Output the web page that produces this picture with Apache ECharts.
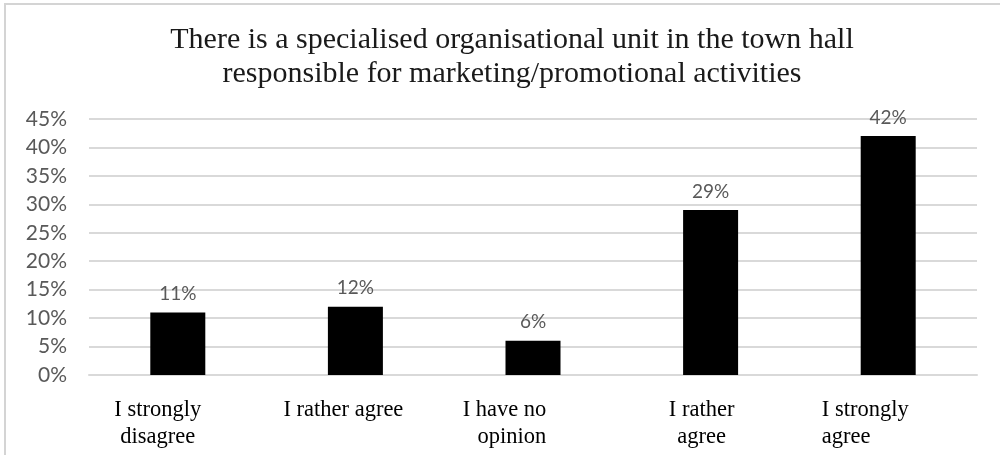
<!DOCTYPE html>
<html>
<head>
<meta charset="utf-8">
<script src="https://cdn.jsdelivr.net/npm/echarts@6/dist/echarts.min.js"></script>
<style>
  html, body { margin: 0; padding: 0; background: #fff; }
  #chart { width: 1000px; height: 455px; }
</style>
</head>
<body>
<div id="chart"></div>
<script>
// Survey answers and their shares (percent of respondents)
const categories = [
  'I strongly\ndisagree',
  'I rather agree',
  'I have no\nopinion',
  'I rather\nagree',
  'I strongly\nagree'
];
const shares = [11, 12, 6, 29, 42];

// Value axis range and step (percent)
const axisMax = 45;
const axisStep = 5;

const titleText = 'There is a specialised organisational unit in the town hall\nresponsible for marketing/promotional activities';

// How each category caption is set under its bar: line alignment and
// extra right padding that pulls the caption block leftwards.
const captionLayout = [
  { align: 'center', shift: 40 },
  { align: 'center', shift: 24 },
  { align: 'right',  shift: 57 },
  { align: 'center', shift: 18 },
  { align: 'left',   shift: 46 }
];

const serif = '"Liberation Serif", "Times New Roman", serif';
const sans = 'Lato, "Open Sans", sans-serif';
const grey = '#595959';

const rich = {};
captionLayout.forEach(function (c, i) {
  rich['c' + i] = {
    fontFamily: serif,
    fontSize: 22.5,
    color: '#000',
    lineHeight: 27,
    align: c.align,
    padding: [0, c.shift, 0, 0]
  };
});

const chart = echarts.init(document.getElementById('chart'), null, { renderer: 'canvas' });

chart.setOption({
  animation: false,
  backgroundColor: '#fff',
  title: {
    text: titleText,
    left: 507,
    top: 18,
    textAlign: 'center',
    textStyle: {
      fontFamily: serif,
      fontSize: 30,
      fontWeight: 'normal',
      color: '#1a1a1a',
      lineHeight: 34
    }
  },
  graphic: [{
    type: 'rect',
    shape: { x: 5, y: 4, width: 1020, height: 480 },
    style: { fill: 'none', stroke: '#d4d4d4', lineWidth: 2 },
    silent: true,
    z: -1
  }],
  grid: {
    left: 89,
    right: 23,
    top: 119,
    bottom: 80,
    containLabel: false
  },
  xAxis: {
    type: 'category',
    data: categories,
    axisLine: { show: true, lineStyle: { color: '#d9d9d9', width: 2 } },
    axisTick: { show: false },
    axisLabel: {
      interval: 0,
      margin: 22,
      formatter: function (value, index) {
        return value.split('\n').map(function (line) {
          return '{c' + index + '|' + line + '}';
        }).join('\n');
      },
      rich: rich
    }
  },
  yAxis: {
    type: 'value',
    min: 0,
    max: axisMax,
    interval: axisStep,
    axisLine: { show: false },
    axisTick: { show: false },
    splitLine: { lineStyle: { color: '#d9d9d9', width: 2 } },
    axisLabel: {
      margin: 22,
      color: grey,
      fontFamily: sans,
      fontSize: 21,
      formatter: '{value}%'
    }
  },
  series: [{
    type: 'bar',
    data: shares,
    barWidth: 55,
    itemStyle: { color: '#000' },
    label: {
      show: true,
      position: 'top',
      distance: 9,
      color: grey,
      fontFamily: sans,
      fontSize: 19,
      formatter: '{c}%'
    }
  }]
});
</script>
</body>
</html>
